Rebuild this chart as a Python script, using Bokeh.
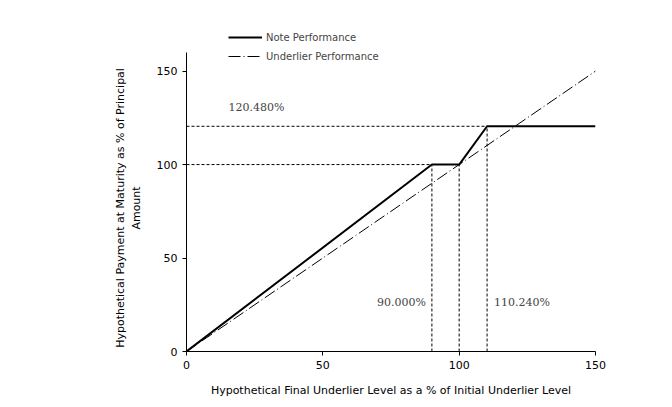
from bokeh.plotting import figure
from bokeh.models import Legend, LegendItem, Label, Range1d, FixedTicker
from bokeh.embed import file_html
from bokeh.resources import INLINE

# data
note_x = [0, 90, 100, 110.24, 150]
note_y = [0, 100, 100, 120.48, 120.48]
under_x = [0, 150]
under_y = [0, 150]
h_levels = [100, 120.48]
h_ends = [90, 110.24]
v_pos = [90, 100, 110.24]
v_tops = [100, 100, 120.48]
ticks = [0, 50, 100, 150]

p = figure(width=664, height=399, output_backend="svg", toolbar_location=None,
           x_range=Range1d(0, 150), y_range=Range1d(0, 176),
           min_border_left=186, min_border_right=69, min_border_top=22, min_border_bottom=47)
p.outline_line_color = None
p.xgrid.visible = False
p.ygrid.visible = False

for lvl, end in zip(h_levels, h_ends):
    p.segment(x0=0, y0=lvl, x1=end, y1=lvl, line_color="black", line_width=1, line_dash="3 2")
for xp, top in zip(v_pos, v_tops):
    p.segment(x0=xp, y0=0, x1=xp, y1=top, line_color="black", line_width=1, line_dash="3 2")

r_under = p.line(under_x, under_y, line_color="black", line_width=1, line_dash="12 3 1 3")
r_note = p.line(note_x, note_y, line_color="black", line_width=2)

legend = Legend(items=[LegendItem(label="Note Performance", renderers=[r_note]),
                       LegendItem(label="Underlier Performance", renderers=[r_under])],
                location=(42, 287), glyph_width=34, glyph_height=16, label_height=16,
                spacing=3, padding=0, margin=0, label_standoff=4,
                label_text_font="DejaVu Sans", label_text_font_size="10px",
                background_fill_alpha=0, border_line_alpha=0)
p.add_layout(legend, "center")

serif = "DejaVu Serif"
p.add_layout(Label(x=0, y=h_levels[1], x_offset=42, y_offset=19, text=f"{h_levels[1]:.3f}%",
                   text_font=serif, text_font_size="11px", text_baseline="middle", text_align="left"))
p.add_layout(Label(x=v_pos[0], y=0, x_offset=-6, y_offset=49, text=f"{v_pos[0]:.3f}%",
                   text_font=serif, text_font_size="11px", text_baseline="middle", text_align="right"))
p.add_layout(Label(x=v_pos[2], y=0, x_offset=7, y_offset=49, text=f"{v_pos[2]:.3f}%",
                   text_font=serif, text_font_size="11px", text_baseline="middle", text_align="left"))

for ax in (p.xaxis[0], p.yaxis[0]):
    ax.ticker = FixedTicker(ticks=ticks)
    ax.minor_tick_line_color = None
    ax.major_tick_in = 0
    ax.major_tick_out = 4
    ax.major_label_text_font = "DejaVu Sans"
    ax.major_label_text_font_size = "11px"
    ax.major_label_text_color = "black"
    ax.axis_label_text_font = "DejaVu Sans"
    ax.axis_label_text_font_size = "11px"
    ax.axis_label_text_font_style = "normal"
    ax.axis_label_text_color = "black"
    ax.axis_line_color = "black"

pad = "\u00a0" * 12
p.yaxis.bounds = (0, 160)
p.xaxis.axis_label = "Hypothetical Final Underlier Level as a % of Initial Underlier Level"
p.yaxis.axis_label = "Hypothetical Payment at Maturity as % of Principal" + pad + "\nAmount" + pad
p.xaxis.axis_label_standoff = 12
p.yaxis.axis_label_standoff = 11

open("out.html", "w").write(file_html(p, INLINE))
